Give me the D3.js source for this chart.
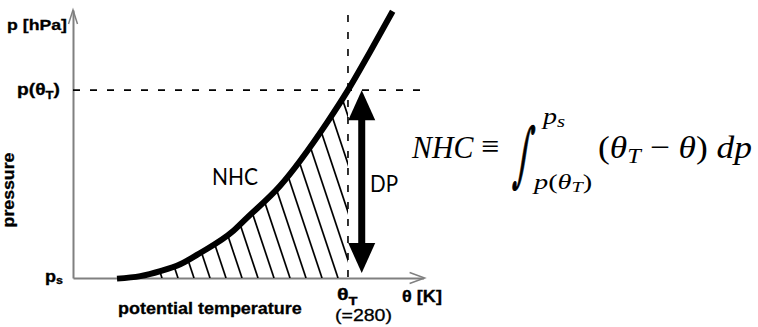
<!DOCTYPE html>
<html><head><meta charset="utf-8">
<script src="https://cdn.jsdelivr.net/npm/d3@7"></script>
<style>body{margin:0;background:#fff}svg{display:block}</style>
</head><body>
<svg id="c" width="758" height="327"></svg>
<script>
// ---- data ----
const thetaDomain = [240, 291];          // potential temperature axis [K]
const pressureDomain = [1000, 572];      // pressure axis [hPa]
const curveTheta    = [246.4, 249.8, 252.7, 255.6, 258.5, 263.3, 265.3, 270.1, 277.0, 280.0, 283.2, 286.5];
const curvePressure = [1001, 997, 989, 978, 960, 925, 904, 853, 751, 700, 639, 574];
const thetaT = 280;
const pThetaT = 700;
const pSurface = 1000;
const dpTheta = 282;
const dashTop = 580;
const dashRight = 290.5;
const yAxisLabel = "p [hPa]";
const yAxisTitle = "pressure";
const xAxisTitle = "potential temperature";
const xAxisLabel = "θ [K]";
const thetaTValue = "(=280)";

const curveData = curveTheta.map((t, i) => ({theta: t, p: curvePressure[i]}));

const svg = d3.select("#c");
const x = d3.scaleLinear().domain(thetaDomain).range([73, 423.6]);
const y = d3.scaleLinear().domain(pressureDomain).range([278, 10]);

const grey = "#808080";

// ---- axes ----
const gx = svg.append("g").attr("transform", `translate(0,${y(pSurface)})`)
  .call(d3.axisBottom(x).tickValues([]).tickSizeOuter(0));
const gy = svg.append("g").attr("transform", `translate(${x(thetaDomain[0])},0)`)
  .call(d3.axisLeft(y).tickValues([]).tickSizeOuter(0));
[gx, gy].forEach(g => g.select(".domain").attr("stroke", grey).attr("stroke-width", 2));

// open arrowheads
const xEnd = x(thetaDomain[1]), yBase = y(pSurface);
svg.append("polyline")
  .attr("points", `${xEnd-14},${yBase-5.5} ${xEnd+1},${yBase} ${xEnd-14},${yBase+5.5}`)
  .attr("fill", "none").attr("stroke", grey).attr("stroke-width", 1.5);
const yTop = y(pressureDomain[1]), xBase = x(thetaDomain[0]);
svg.append("polyline")
  .attr("points", `${xBase-4.5},${yTop+14} ${xBase},${yTop} ${xBase+4.5},${yTop+14}`)
  .attr("fill", "none").attr("stroke", grey).attr("stroke-width", 1.5);

// ---- hatched region ----
const defs = svg.append("defs");
const area = d3.area().x(d => x(d.theta)).y0(y(pSurface)).y1(d => y(d.p)).curve(d3.curveMonotoneX);
defs.append("clipPath").attr("id", "under").append("path").attr("d", area(curveData));
defs.append("clipPath").attr("id", "leftT").append("rect")
  .attr("x", 0).attr("y", 0).attr("width", x(thetaT)).attr("height", y(pSurface));
const hatch = svg.append("g").attr("clip-path", "url(#leftT)")
  .append("g").attr("clip-path", "url(#under)");
const slope = 3;
hatch.selectAll("line").data(d3.range(130, 440, 16)).join("line")
  .attr("x1", d => d).attr("y1", y(pSurface))
  .attr("x2", d => d - 300 / slope).attr("y2", y(pSurface) - 300)
  .attr("stroke", "#000").attr("stroke-width", 1.7);

// ---- dashed reference lines ----
svg.append("line")
  .attr("x1", x(thetaDomain[0])).attr("x2", x(dashRight))
  .attr("y1", y(pThetaT)).attr("y2", y(pThetaT))
  .attr("stroke", "#000").attr("stroke-width", 1.6).attr("stroke-dasharray", "7,10");
svg.append("line")
  .attr("x1", x(thetaT)).attr("x2", x(thetaT))
  .attr("y1", y(dashTop)).attr("y2", y(pSurface))
  .attr("stroke", "#000").attr("stroke-width", 1.6).attr("stroke-dasharray", "7,10");

// ---- curve ----
svg.append("path").attr("d", d3.line().x(d => x(d.theta)).y(d => y(d.p)).curve(d3.curveMonotoneX)(curveData))
  .attr("fill", "none").attr("stroke", "#000").attr("stroke-width", 6);

// ---- DP double arrow ----
const ax = x(dpTheta), aTop = y(pThetaT), aBot = y(pSurface) - 5;
const headH = 30, headW = 13.5;
svg.append("rect").attr("x", ax - 3.5).attr("y", aTop + headH - 1).attr("width", 7)
  .attr("height", (aBot - aTop) - 2 * headH + 2).attr("fill", "#000");
svg.append("path").attr("d", `M${ax},${aTop} L${ax+headW},${aTop+headH} L${ax-headW},${aTop+headH} Z`).attr("fill", "#000");
svg.append("path").attr("d", `M${ax},${aBot} L${ax+headW},${aBot-headH} L${ax-headW},${aBot-headH} Z`).attr("fill", "#000");

// ---- text helper ----
function label(px, py, o, build) {
  const g = svg.append("g").attr("transform", `translate(${px},${py})${o.rotate ? ` rotate(${o.rotate})` : ""}`);
  const t = g.append("text")
    .attr("font-family", o.family || "'Liberation Sans', Arial, sans-serif")
    .attr("font-size", o.size || 16)
    .attr("font-weight", o.weight || "normal")
    .attr("font-style", o.style || "normal")
    .attr("text-anchor", o.anchor || "start")
    .attr("fill", "#000");
  if (o.stroke) t.attr("stroke", "#000").attr("stroke-width", o.stroke);
  if (typeof build === "string") t.text(build); else build(t);
  if (o.width) {
    const bb = t.node().getBBox();
    t.attr("transform", `scale(${o.width / bb.width},1)`);
  }
  return t;
}

const bold = {weight: "bold", stroke: 0.3};
label(67, 30, {...bold, size: 15, anchor: "end", width: 60}, yAxisLabel);
label(60, 95, {...bold, size: 16, anchor: "end", width: 43}, t => {
  t.append("tspan").text("p(θ");
  t.append("tspan").attr("font-size", 11).attr("dy", 4).text("T");
  t.append("tspan").attr("dy", -4).text(")");
});
label(14, 190, {...bold, size: 16, anchor: "middle", rotate: -90, width: 75}, yAxisTitle);
label(63, 282, {...bold, size: 16, anchor: "end", width: 18}, t => {
  t.append("tspan").text("p");
  t.append("tspan").attr("font-size", 11).attr("dy", 2).text("s");
});
label(118, 314, {...bold, size: 16, width: 184}, xAxisTitle);
label(337, 300, {...bold, size: 16, width: 21}, t => {
  t.append("tspan").text("θ");
  t.append("tspan").attr("font-size", 11).attr("dy", 5).text("T");
});
label(335, 321, {size: 16, stroke: 0.3, width: 57}, thetaTValue);
label(402, 302, {...bold, size: 16, width: 40}, xAxisLabel);

label(212, 185, {size: 24, family: "Lato, 'Open Sans', sans-serif", width: 46}, "NHC");
label(370, 192, {size: 24, family: "Lato, 'Open Sans', sans-serif", width: 28}, "DP");

// ---- formula ----
const serif = "'Liberation Serif', 'DejaVu Serif', serif";
label(412, 158, {size: 32, family: serif, style: "italic", width: 63}, "NHC");
label(490, 157, {size: 32, family: serif, anchor: "middle"}, "≡");
// integral sign fitted to its box, slanted like a math-italic integral
(function () {
  const g = svg.append("g");
  const t = g.append("text").attr("font-family", "'DejaVu Serif', serif").attr("font-size", 40)
    .attr("stroke", "#000").attr("stroke-width", 0.6).text("∫");
  const bb = t.node().getBBox();
  const bx = 522, by = 114, bw = 16, bh = 80;
  g.attr("transform", `translate(${bx},${by}) skewX(-8) scale(${bw / bb.width},${bh / bb.height}) translate(${-bb.x},${-bb.y})`);
})();
label(543, 124, {size: 23, family: serif, style: "italic", width: 25}, t => {
  t.append("tspan").text("p");
  t.append("tspan").attr("font-size", 17).attr("dy", 3).text("s");
});
label(534, 189, {size: 21, family: serif, width: 61}, t => {
  t.append("tspan").attr("font-style", "italic").text("p");
  t.append("tspan").text("(");
  t.append("tspan").attr("font-style", "italic").text("θ");
  t.append("tspan").attr("font-style", "italic").attr("font-size", 15).attr("dy", 3).text("T");
  t.append("tspan").attr("dy", -3).text(")");
});
label(598, 158, {size: 32, family: serif, width: 154}, t => {
  t.append("tspan").text("(");
  t.append("tspan").attr("font-style", "italic").text("θ");
  t.append("tspan").attr("font-style", "italic").attr("font-size", 22).attr("dy", 5).text("T");
  t.append("tspan").attr("dy", -5).text(" − ");
  t.append("tspan").attr("font-style", "italic").text("θ");
  t.append("tspan").text(") ");
  t.append("tspan").attr("font-style", "italic").text("dp");
});
</script>
</body></html>
